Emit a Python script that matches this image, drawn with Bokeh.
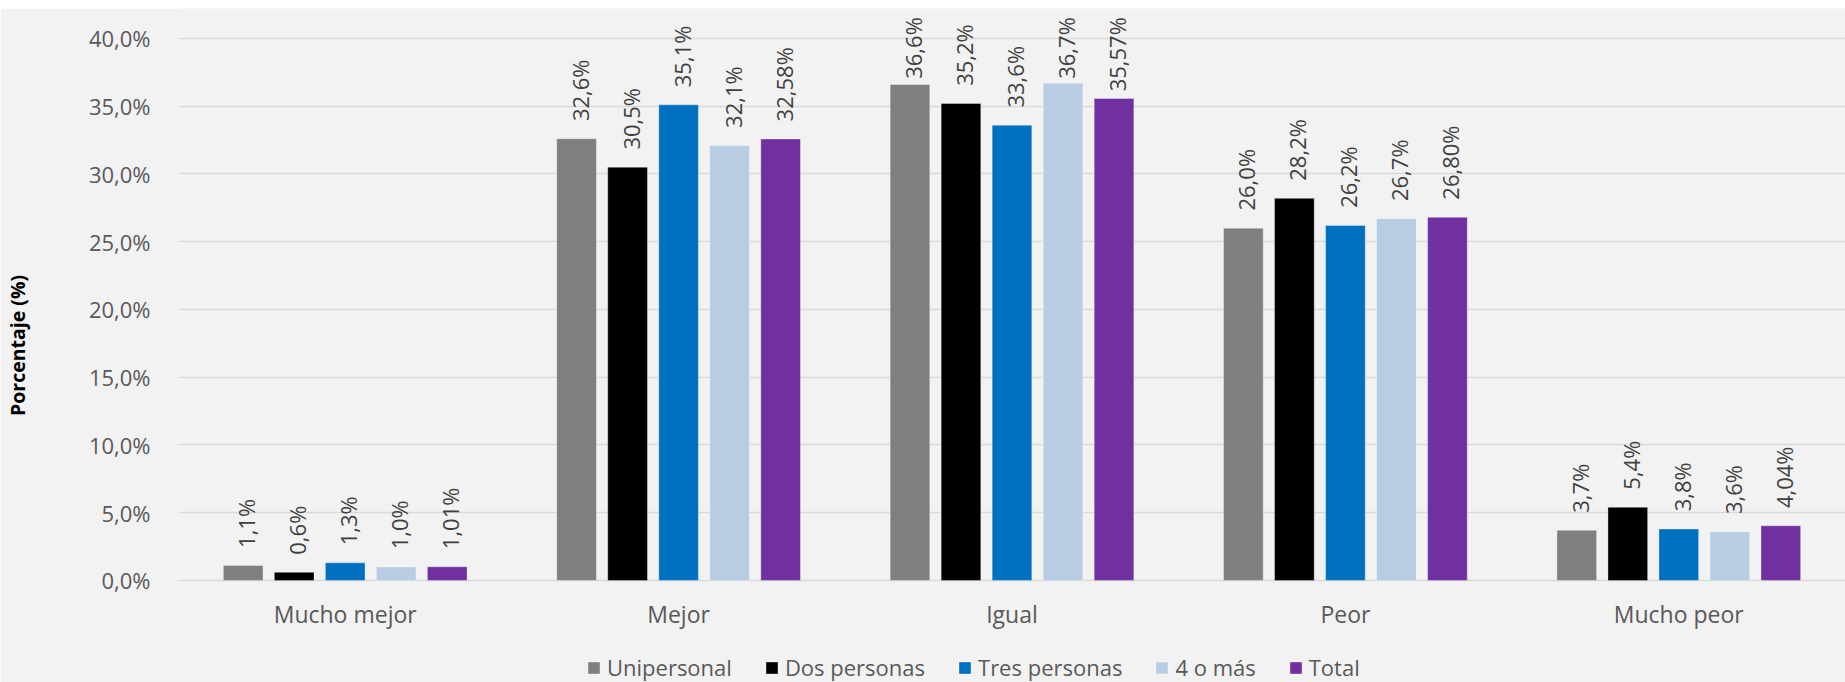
import math
from bokeh.plotting import figure
from bokeh.layouts import column
from bokeh.models import (ColumnDataSource, FactorRange, Range1d, FixedTicker, Legend,
                          LegendItem, Spacer)
from bokeh.transform import dodge
from bokeh.core.properties import value
from bokeh.embed import file_html
from bokeh.resources import INLINE

categories = ["Mucho mejor", "Mejor", "Igual", "Peor", "Mucho peor"]
series_names = ["Unipersonal", "Dos personas", "Tres personas", "4 o más", "Total"]
unipersonal = [1.1, 32.6, 36.6, 26.0, 3.7]
dos_personas = [0.6, 30.5, 35.2, 28.2, 5.4]
tres_personas = [1.3, 35.1, 33.6, 26.2, 3.8]
cuatro_o_mas = [1.0, 32.1, 36.7, 26.7, 3.6]
total = [1.01, 32.58, 35.57, 26.80, 4.04]
unipersonal_lbl = ["1,1%", "32,6%", "36,6%", "26,0%", "3,7%"]
dos_personas_lbl = ["0,6%", "30,5%", "35,2%", "28,2%", "5,4%"]
tres_personas_lbl = ["1,3%", "35,1%", "33,6%", "26,2%", "3,8%"]
cuatro_o_mas_lbl = ["1,0%", "32,1%", "36,7%", "26,7%", "3,6%"]
total_lbl = ["1,01%", "32,58%", "35,57%", "26,80%", "4,04%"]
y_ticks = [0, 5, 10, 15, 20, 25, 30, 35, 40]
y_tick_labels = ["0,0%", "5,0%", "10,0%", "15,0%", "20,0%", "25,0%", "30,0%", "35,0%", "40,0%"]
y_title = "Porcentaje (%)"

colors = ["#7F7F7F", "#000000", "#0070C0", "#B8CCE4", "#7030A0"]
values = [unipersonal, dos_personas, tres_personas, cuatro_o_mas, total]
labels = [unipersonal_lbl, dos_personas_lbl, tres_personas_lbl, cuatro_o_mas_lbl, total_lbl]

FONT = "Open Sans"
BG = "#F2F2F2"
LABEL_PX = 22
PX_PER_UNIT = 13.55          # vertical scale of the frame (px per percentage point)
GAP = 1.3                    # gap between bar top and its label, in axis units
CEIL = 41.57                 # labels are kept below this level (as the chart area does)
CHAR_EM = {",": 0.25, "%": 0.82}


def label_len(s):
    return sum(CHAR_EM.get(c, 0.572) for c in s) * LABEL_PX / PX_PER_UNIT


data = {"cat": categories}
for i in range(5):
    data[f"v{i}"] = values[i]
    data[f"l{i}"] = labels[i]
    ys, al = [], []
    for v, s in zip(values[i], labels[i]):
        if v + GAP + label_len(s) > CEIL:
            ys.append(CEIL)
            al.append("right")
        else:
            ys.append(v + GAP)
            al.append("left")
    data[f"y{i}"] = ys
    data[f"a{i}"] = al
src = ColumnDataSource(data)

p = figure(x_range=FactorRange(*categories), y_range=Range1d(-7.53, 42.21),
           width=1845, height=674, output_backend="svg", toolbar_location=None,
           background_fill_color=BG, border_fill_color=BG, outline_line_color=None,
           min_border_left=171, min_border_right=0, min_border_top=0, min_border_bottom=0)

pitch = 0.153
bw = 0.119
items = []
for i in range(5):
    off = (i - 2) * pitch
    r = p.vbar(x=dodge("cat", off, range=p.x_range), top=f"v{i}", width=bw, source=src,
               fill_color=colors[i], line_color="white", line_alpha=0.35, line_width=1)
    items.append(LegendItem(label=series_names[i], renderers=[r]))
    p.text(x=dodge("cat", off + 0.009, range=p.x_range), y=f"y{i}", text=f"l{i}", source=src,
           angle=math.pi / 2, text_align=f"a{i}", text_baseline="middle",
           text_font=value(FONT), text_font_size=f"{LABEL_PX}px", text_color="#404040")

p.yaxis.ticker = FixedTicker(ticks=y_ticks)
p.yaxis.major_label_overrides = {t: s for t, s in zip(y_ticks, y_tick_labels)}
p.yaxis.axis_line_color = None
p.yaxis.major_tick_line_color = None
p.yaxis.minor_tick_line_color = None
p.yaxis.major_label_text_font = FONT
p.yaxis.major_label_text_font_size = "22px"
p.yaxis.major_label_text_color = "#595959"
p.yaxis.major_label_standoff = 22
p.yaxis.axis_label = y_title
p.yaxis.axis_label_text_font = FONT
p.yaxis.axis_label_text_font_size = "19.5px"
p.yaxis.axis_label_text_font_style = "bold"
p.yaxis.axis_label_text_color = "#000000"
p.yaxis.axis_label_standoff = 55

p.xaxis.fixed_location = 0
p.xaxis.axis_line_color = None
p.xaxis.major_tick_line_color = None
p.xaxis.minor_tick_line_color = None
p.xaxis.major_label_text_font = FONT
p.xaxis.major_label_text_font_size = "23px"
p.xaxis.major_label_text_color = "#595959"
p.xaxis.major_label_standoff = 12

p.xgrid.grid_line_color = None
p.ygrid.grid_line_color = "#D9D9D9"
p.ygrid.grid_line_width = 1.5

legend = Legend(items=items, orientation="horizontal", location=(408, 0),
                label_text_font=FONT, label_text_font_size="22px", label_text_color="#595959",
                glyph_width=15, glyph_height=15, label_standoff=6, spacing=32,
                background_fill_alpha=0, border_line_color=None, padding=0, margin=0)
p.add_layout(legend)

layout = column(Spacer(width=1845, height=8), p, spacing=0)
open("out.html", "w").write(file_html(layout, INLINE))
